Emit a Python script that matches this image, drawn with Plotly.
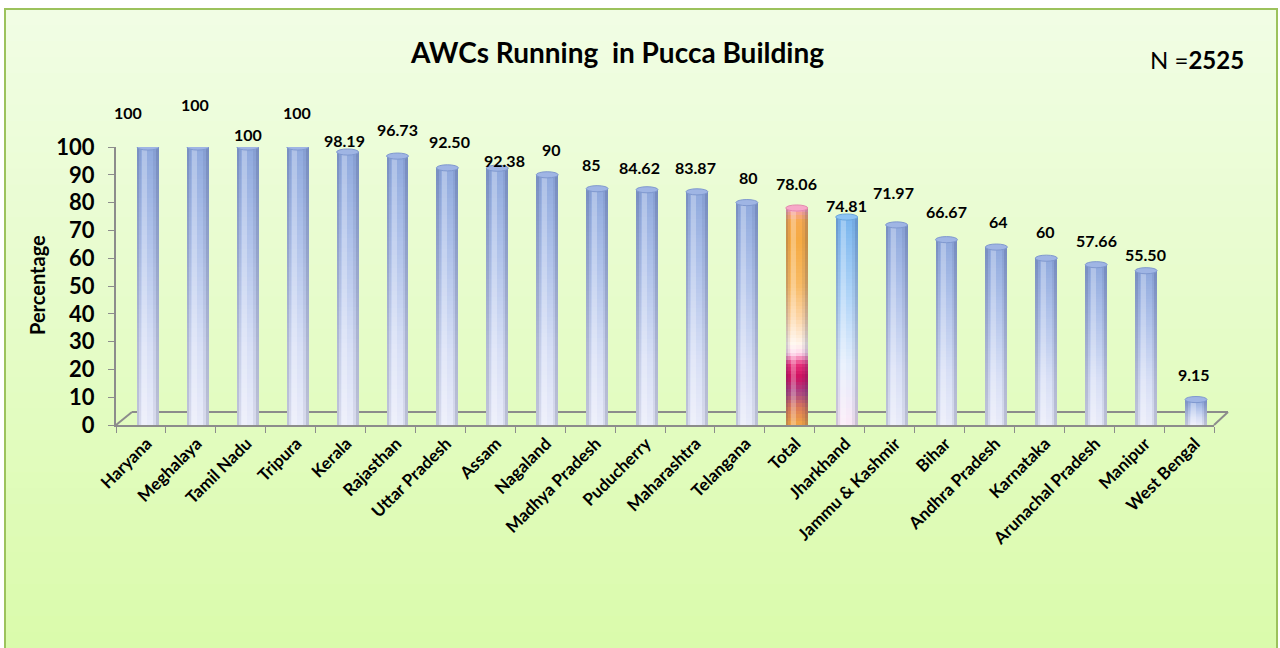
import plotly.graph_objects as go

# ---------------- data ----------------
states = ["Haryana", "Meghalaya", "Tamil Nadu", "Tripura", "Kerala", "Rajasthan",
          "Uttar Pradesh", "Assam", "Nagaland", "Madhya Pradesh", "Puducherry",
          "Maharashtra", "Telangana", "Total", "Jharkhand", "Jammu & Kashmir",
          "Bihar", "Andhra Pradesh", "Karnataka", "Arunachal Pradesh", "Manipur",
          "West Bengal"]
values = [100, 100, 100, 100, 98.19, 96.73, 92.50, 92.38, 90, 85, 84.62,
          83.87, 80, 78.06, 74.81, 71.97, 66.67, 64, 60, 57.66, 55.50, 9.15]
y_ticks = [0, 10, 20, 30, 40, 50, 60, 70, 80, 90, 100]
title_text = "AWCs Running  in Pucca Building"
n_total = 2525

# ---------------- styles ----------------
# label vertical shift above bar top (px) and horizontal shift (px), mimicking Excel 3D placement
label_dy = [35, 43, 13, 35, 12, 27, 26, 8, 25, 24, 22, 24, 25, 24, 12, 32, 28, 26, 27, 24, 16, 25]
label_dx = [-20, -3, 0, -1, -3, 0, 2, 7, 4, -6, -8, -1, 2, 0, 0, -3, 0, 2, -1, 0, -1, -2]

FONT = "Lato"
L, R, T, B = 116, 1214, 147, 425
W, H = 1280, 648
SHIFT = 0.14
BW = 0.44


def fx(p):
    return (p - L) / (R - L)


def fy(p):
    return (B - p) / (B - T)


def hex2rgb(h):
    h = h.lstrip("#")
    return tuple(int(h[i:i + 2], 16) for i in (0, 2, 4))


def interp(stops, f):
    for (f0, c0), (f1, c1) in zip(stops[:-1], stops[1:]):
        if f0 <= f <= f1:
            t = 0 if f1 == f0 else (f - f0) / (f1 - f0)
            a, b = hex2rgb(c0), hex2rgb(c1)
            return "rgb(%d,%d,%d)" % tuple(round(a[k] + (b[k] - a[k]) * t) for k in range(3))
    return "rgb(%d,%d,%d)" % hex2rgb(stops[-1][1])


blue_stops = [(0.0, "#e9ebf9"), (0.3, "#d6def5"), (0.7, "#adc0e9"), (1.0, "#8fa9dd")]
total_stops = [(0.0, "#f2a544"), (0.08, "#dc7a58"), (0.15, "#a94484"), (0.22, "#cf1060"),
               (0.28, "#e8307a"), (0.33, "#ffd8ec"), (0.37, "#fff6ee"), (0.5, "#fdd4a4"),
               (0.65, "#f8ba62"), (0.85, "#f6aa42"), (0.94, "#f7aa50"), (1.0, "#f6a0c0")]
jh_stops = [(0.0, "#fbe9f7"), (0.3, "#e2edfc"), (0.6, "#b3d6f8"), (1.0, "#79b5ee")]


def stops_for(name):
    if name == "Total":
        return total_stops
    if name == "Jharkhand":
        return jh_stops
    return blue_stops


cap_color = {"Total": ("#f7a8c8", "#e58aae"), "Jharkhand": ("#8cc3f3", "#6aa6dc")}

xs = [i + SHIFT for i in range(len(states))]

fig = go.Figure()

# cylinders: stacked overlapping bars giving vertical gradient
N = 60
for k in range(N):
    frac = 1 - k / N
    fcol = frac - 0.5 / N
    fig.add_trace(go.Bar(
        x=xs, y=[v * frac for v in values], width=BW,
        marker=dict(color=[interp(stops_for(s), fcol) for s in states], line=dict(width=0)),
        hoverinfo="skip", showlegend=False))

# horizontal shading (cylinder look)
shade = [(-BW / 2, 0.05, "rgba(30,40,90,0.20)"),
         (-BW / 2 + 0.05, 0.04, "rgba(30,40,90,0.08)"),
         (-BW / 2 + 0.11, 0.10, "rgba(255,255,255,0.28)"),
         (BW / 2 - 0.11, 0.05, "rgba(30,40,90,0.08)"),
         (BW / 2 - 0.06, 0.06, "rgba(30,40,90,0.22)")]
for off, w, c in shade:
    fig.add_trace(go.Bar(
        x=xs, y=values, width=w, offset=off,
        marker=dict(color=c, line=dict(width=0)),
        hoverinfo="skip", showlegend=False))

shapes = []
# background gradient bands
top_c, bot_c = "#f1fde5", "#dafbab"
nb = 40
y_start, y_end = 9, H
for j in range(nb):
    p0 = y_start + (y_end - y_start) * j / nb
    p1 = y_start + (y_end - y_start) * (j + 1) / nb + 1
    col = interp([(0, top_c), (1, bot_c)], (j + 0.5) / nb)
    shapes.append(dict(type="rect", xref="paper", yref="paper", layer="below",
                       x0=fx(5), x1=fx(1277), y0=fy(p0), y1=fy(p1),
                       fillcolor=col, line=dict(width=0)))
shapes.append(dict(type="rect", xref="paper", yref="paper", layer="below",
                   x0=fx(5), x1=fx(1277), y0=fy(9), y1=fy(H + 5),
                   fillcolor="rgba(0,0,0,0)", line=dict(color="#9cc25c", width=2)))
# 3D floor
gray = "#8c8c8c"
for (a, b, c, d) in [(132, 412, 1228, 412), (116, 425, 132, 412), (1214, 425, 1228, 412)]:
    shapes.append(dict(type="line", xref="paper", yref="paper", layer="below",
                       x0=fx(a), y0=fy(b), x1=fx(c), y1=fy(d),
                       line=dict(color=gray, width=2)))
# cylinder caps
for x, v, s in zip(xs, values, states):
    fc, lc = cap_color.get(s, ("#9fb5e4", "#7f98cf"))
    shapes.append(dict(type="circle", xref="x", yref="y", layer="above",
                       x0=x - BW / 2, x1=x + BW / 2, y0=v - 1.1, y1=v + 1.1,
                       fillcolor=fc, line=dict(color=lc, width=1)))

annotations = []
for x, v, dy, dx in zip(xs, values, label_dy, label_dx):
    txt = str(int(v)) if float(v).is_integer() else f"{v:.2f}"
    annotations.append(dict(x=x, y=v, xref="x", yref="y", text=txt, showarrow=False,
                            xanchor="center", yanchor="middle", yshift=dy, xshift=dx,
                            font=dict(family=FONT, size=16, color="black", weight="bold")))
annotations.append(dict(x=fx(617), y=fy(52), xref="paper", yref="paper",
                        text=title_text.replace("  ", " &nbsp;"), showarrow=False,
                        xanchor="center", yanchor="middle",
                        font=dict(family=FONT, size=28, color="black", weight="bold")))
annotations.append(dict(x=fx(1246), y=fy(60), xref="paper", yref="paper",
                        text=f"N =<b>{n_total}</b>", showarrow=False,
                        xanchor="right", yanchor="middle",
                        font=dict(family=FONT, size=24, color="black")))
annotations.append(dict(x=fx(37), y=fy(285), xref="paper", yref="paper",
                        text="Percentage", showarrow=False, textangle=-90,
                        xanchor="center", yanchor="middle",
                        font=dict(family=FONT, size=20, color="black", weight="bold")))

fig.update_layout(
    width=W, height=H, barmode="overlay", bargap=0,
    margin=dict(l=L, r=W - R, t=T, b=H - B, pad=0),
    paper_bgcolor="white", plot_bgcolor="rgba(0,0,0,0)",
    shapes=shapes, annotations=annotations, showlegend=False,
    xaxis=dict(range=[-0.5, len(states) - 0.5], tickmode="array",
               tickvals=[i + 0.12 for i in range(len(states))], ticktext=states,
               tickangle=-45, ticks="", showgrid=False, zeroline=False, automargin=False,
               showline=True, linecolor=gray, linewidth=2,
               tickfont=dict(family=FONT, size=17, color="black", weight="bold"),
               minor=dict(tickvals=[i - 0.5 for i in range(len(states) + 1)],
                          ticks="outside", ticklen=6, tickcolor=gray, tickwidth=1,
                          showgrid=False)),
    yaxis=dict(range=[0, 100], tickmode="array", tickvals=y_ticks, automargin=False,
               ticks="outside", ticklen=6, tickcolor=gray, showgrid=False,
               ticklabelstandoff=9,
               zeroline=False, showline=True, linecolor=gray, linewidth=2,
               tickfont=dict(family=FONT, size=22, color="black", weight="bold")),
)

fig.write_html("out.html", config={"displayModeBar": False},
               post_script="document.body.style.margin='0';document.body.style.overflow='hidden';")
